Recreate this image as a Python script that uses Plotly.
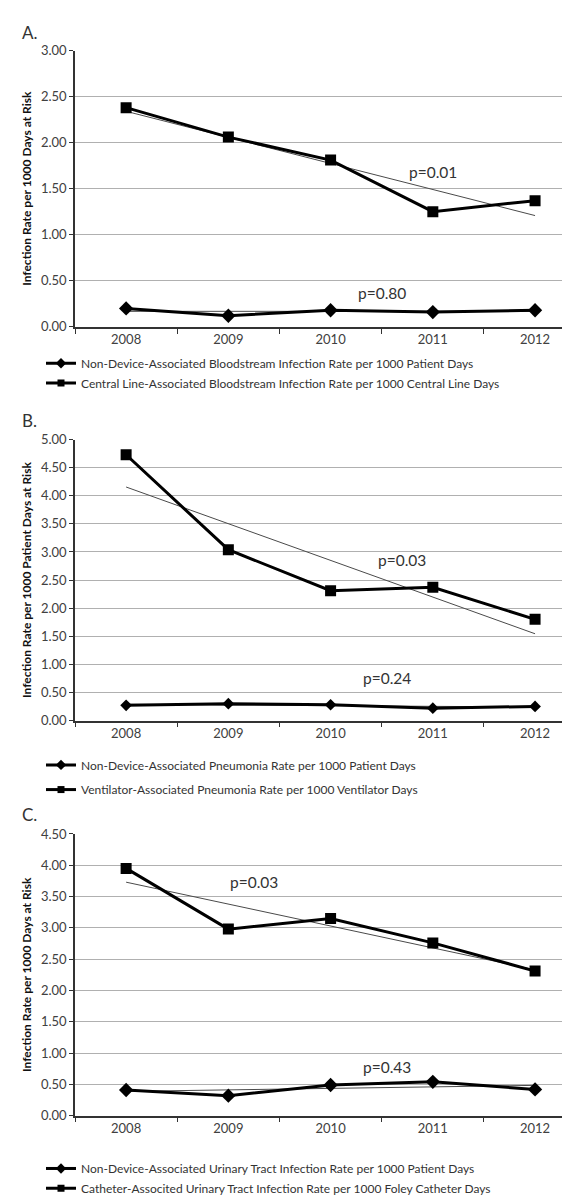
import numpy as np
import plotly.graph_objects as go

years = ["2008", "2009", "2010", "2011", "2012"]

# Panel A
a_nondevice = [0.20, 0.12, 0.18, 0.16, 0.18]
a_clabsi = [2.38, 2.06, 1.81, 1.25, 1.37]
a_names = ["Non-Device-Associated Bloodstream Infection Rate per 1000 Patient Days",
           "Central Line-Associated Bloodstream Infection Rate per 1000 Central Line Days"]
a_p = ["p=0.80", "p=0.01"]

# Panel B
b_nondevice = [0.27, 0.30, 0.28, 0.22, 0.25]
b_vap = [4.73, 3.04, 2.31, 2.37, 1.80]
b_names = ["Non-Device-Associated Pneumonia Rate per 1000 Patient Days",
           "Ventilator-Associated Pneumonia Rate per 1000 Ventilator Days"]
b_p = ["p=0.24", "p=0.03"]

# Panel C
c_nondevice = [0.41, 0.32, 0.49, 0.54, 0.42]
c_cauti = [3.95, 2.98, 3.15, 2.76, 2.31]
c_names = ["Non-Device-Associated Urinary Tract Infection Rate per 1000 Patient Days",
           "Catheter-Associted Urinary Tract Infection Rate per 1000 Foley Catheter Days"]
c_p = ["p=0.43", "p=0.03"]

panel_labels = ["A.", "B.", "C."]
y_titles = ["Infection Rate per 1000 Days at Risk",
            "Infection Rate per 1000 Patient Days at Risk",
            "Infection Rate per 1000 Days at Risk"]
y_max = [3.0, 5.0, 4.5]

FONT = "Lato"
W, H = 570, 1203

def py(pix):
    return 1 - pix / H

# plot-area pixel geometry
x_left = 67 / W
y_domains = [(py(315), py(35)), (py(714), py(429.3)), (py(1114.5), py(829))]
legend_rows = [(352, 372), (759, 784), (1168, 1188)]
label_pos = [17, 410, 809]
diamond_size = [11, 9, 11]
# p-value text positions (year index offset, value)
p_pos = [[(2.5, 0.37), (3.0, 1.68)],
         [(2.55, 0.75), (2.7, 2.85)],
         [(2.55, 0.78), (1.25, 3.73)]]

fig = go.Figure()
panels = [(a_nondevice, a_clabsi, a_names, a_p),
          (b_nondevice, b_vap, b_names, b_p),
          (c_nondevice, c_cauti, c_names, c_p)]

xidx = np.arange(len(years))
legend_counter = 0
for i, (nd, dev, names, pv) in enumerate(panels):
    xa = "x" if i == 0 else f"x{i+1}"
    ya = "y" if i == 0 else f"y{i+1}"
    for series, sym, size, name in [(nd, "diamond", diamond_size[i], names[0]),
                                    (dev, "square", 11, names[1])]:
        slope, icpt = np.polyfit(xidx, series, 1)
        trend = slope * xidx + icpt
        fig.add_trace(go.Scatter(
            x=years, y=list(trend), mode="lines", xaxis=xa, yaxis=ya,
            line=dict(color="#4a4a4a", width=1), showlegend=False, hoverinfo="skip"))
        fig.add_trace(go.Scatter(
            x=years, y=series, mode="lines+markers", name=name, xaxis=xa, yaxis=ya,
            line=dict(color="black", width=3),
            marker=dict(symbol=sym, size=size, color="black"),
            showlegend=False))
        # legend entry (smaller symbol, as in the original legend)
        legend_counter += 1
        lg = "legend" if legend_counter == 1 else f"legend{legend_counter}"
        fig.add_trace(go.Scatter(
            x=[None], y=[None], mode="lines+markers", name=name, xaxis=xa, yaxis=ya,
            line=dict(color="black", width=3),
            marker=dict(symbol=sym, size=8 if sym == "diamond" else 7, color="black"),
            legend=lg, showlegend=True, hoverinfo="skip"))

layout = dict(
    width=W, height=H, margin=dict(l=0, r=0, t=0, b=0),
    paper_bgcolor="white", plot_bgcolor="white",
    font=dict(family=FONT, color="#333333"),
    annotations=[], showlegend=True,
)

for i in range(3):
    xk = "xaxis" if i == 0 else f"xaxis{i+1}"
    yk = "yaxis" if i == 0 else f"yaxis{i+1}"
    ya = "y" if i == 0 else f"y{i+1}"
    xa = "x" if i == 0 else f"x{i+1}"
    layout[xk] = dict(
        domain=[x_left, 1], anchor=ya, type="category",
        range=[-0.5, 4.42], showline=True, linecolor="#333333", linewidth=1.5,
        ticks="outside", tickson="boundaries", ticklen=5, tickcolor="#333333",
        showgrid=False, tickfont=dict(family=FONT, size=13, color="#404040"),
    )
    layout[yk] = dict(
        domain=list(y_domains[i]), anchor=xa, range=[0, y_max[i]],
        dtick=0.5, tickformat=".2f", showline=True, linecolor="#333333", linewidth=1.5,
        ticks="outside", ticklen=4, tickcolor="#333333",
        showgrid=True, gridcolor="#b0b0b0", gridwidth=1.2, zeroline=False,
        tickfont=dict(family=FONT, size=13, color="#404040"),
        title=dict(text=y_titles[i], font=dict(family=FONT, size=12, color="#111111",
                                               weight="bold"), standoff=7),
    )
    layout["annotations"].append(dict(
        text=panel_labels[i], xref="paper", yref="paper", x=12 / W, y=py(label_pos[i]),
        xanchor="left", yanchor="middle", showarrow=False,
        font=dict(family=FONT, size=17, color="#333333")))
    for (px, pyv), txt in zip(p_pos[i], panels[i][3]):
        layout["annotations"].append(dict(
            text=txt, xref=xa, yref=ya, x=px, y=pyv, showarrow=False,
            xanchor="center", yanchor="middle",
            font=dict(family=FONT, size=15.5, color="#333333")))

k = 0
for i in range(3):
    for row in legend_rows[i]:
        k += 1
        lk = "legend" if k == 1 else f"legend{k}"
        layout[lk] = dict(
            x=33 / W, y=py(row), xanchor="left", yanchor="middle",
            bgcolor="rgba(0,0,0,0)", borderwidth=0, itemwidth=30,
            font=dict(family=FONT, size=12, color="#333333"))

fig.update_layout(**layout)
fig.write_html("out.html")
